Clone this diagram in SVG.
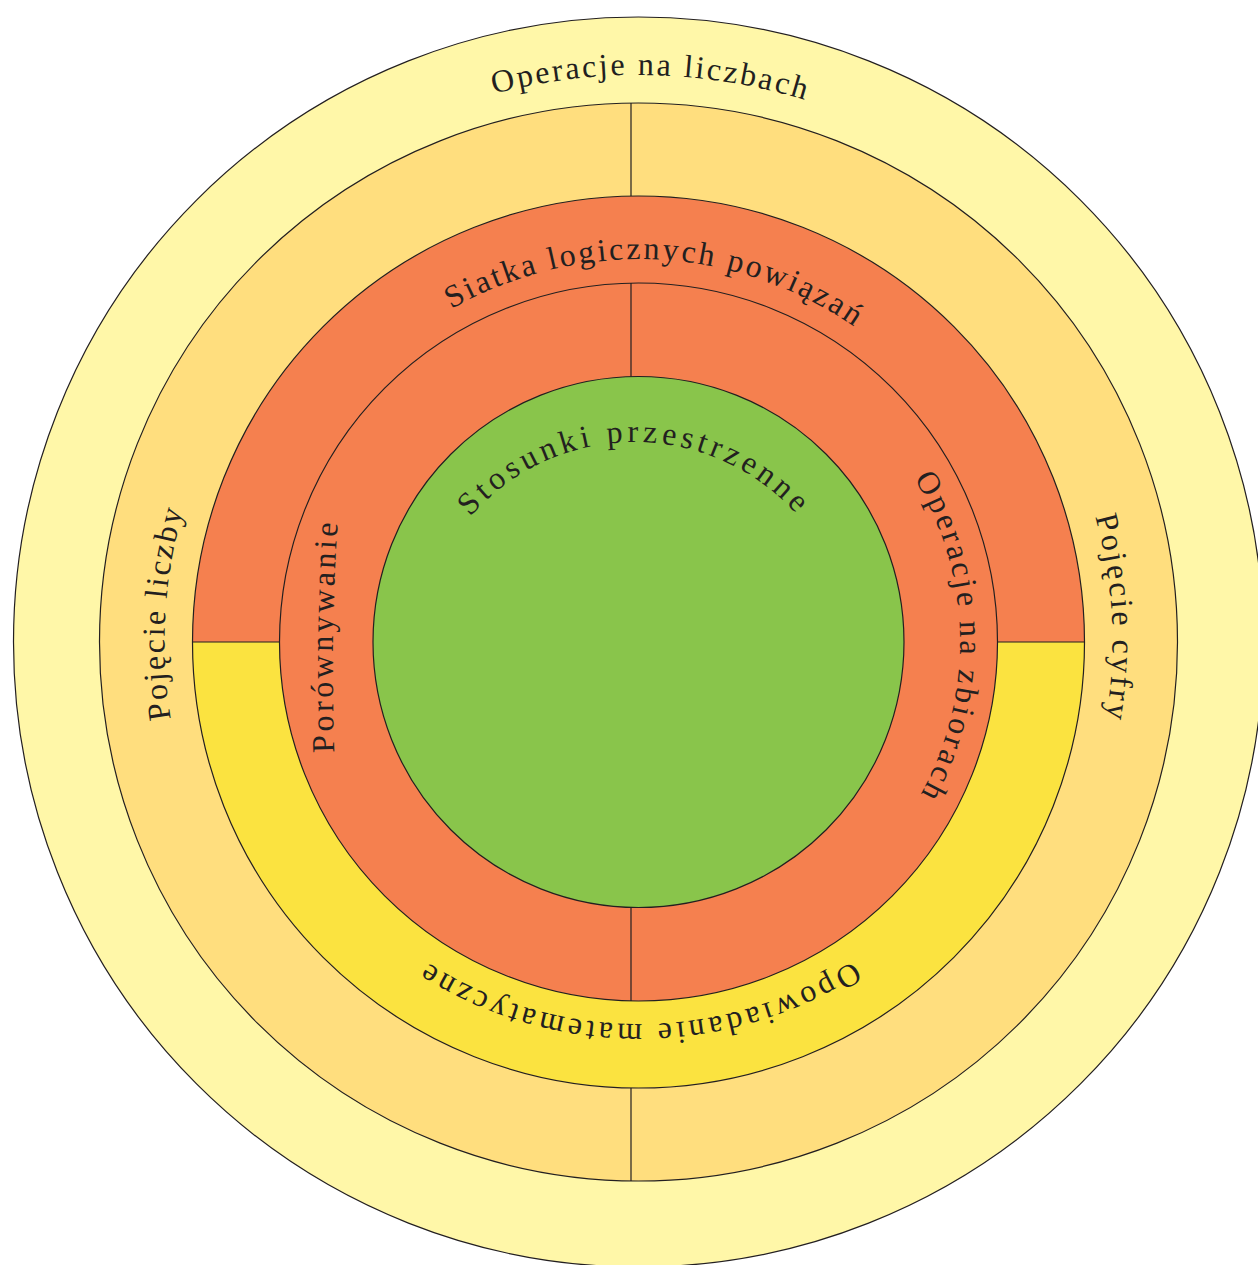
<svg xmlns="http://www.w3.org/2000/svg" width="1258" height="1265" viewBox="0 0 1258 1265">
  <style>
    .ring { stroke: #231F20; stroke-width: 1.2; }
    .div { stroke: #231F20; stroke-width: 1.2; fill: none; }
    .lbl { font-family: "Liberation Serif", "DejaVu Serif", serif; font-size: 32px; fill: #231F20; }
  </style>
  <defs>
    <path id="p-outer" d="M 626.13 1208.87 A 567 567 0 0 1 650.87 75.13 A 567 567 0 0 1 626.13 1208.87"/>
    <path id="p-siatka" d="M 620.46 1024.57 A 383 383 0 0 1 656.54 259.43 A 383 383 0 0 1 620.46 1024.57"/>
    <path id="p-stos" d="M 634.5 878 A 218 218 0 0 1 634.5 442 A 218 218 0 0 1 634.5 878"/>
    <path id="p-por" d="M 336 790 Q 328 640 340 490"/>
    <path id="p-zbior" d="M 330.04 647.22 A 315 315 0 0 1 959.96 636.78 A 315 315 0 0 1 330.04 647.22"/>
    <path id="p-liczby" d="M 1111.62 670.94 A 474 474 0 0 1 165.38 613.06 A 474 474 0 0 1 1111.62 670.94"/>
    <path id="p-cyfry" d="M 165.11 665.98 A 474 474 0 0 1 1111.89 618.02 A 474 474 0 0 1 165.11 665.98"/>
    <path id="p-opow" d="M 639 236 A 394 394 0 0 1 639 1024 A 394 394 0 0 1 639 236"/>
  </defs>

  <g id="ring-operacje-na-liczbach">
    <circle class="ring" cx="638.5" cy="642" r="625" fill="#FFF7A8"/>
    <text class="lbl" letter-spacing="2.45"><textPath href="#p-outer" startOffset="50%" text-anchor="middle">Operacje na liczbach</textPath></text>
  </g>

  <g id="ring-pojecie">
    <circle class="ring" cx="638.5" cy="642" r="539" fill="#FFDE7E"/>
    <text class="lbl" letter-spacing="2.3"><textPath href="#p-liczby" startOffset="50%" text-anchor="middle">Pojęcie liczby</textPath></text>
    <text class="lbl" letter-spacing="2.8"><textPath href="#p-cyfry" startOffset="50%" text-anchor="middle">Pojęcie cyfry</textPath></text>
  </g>

  <g id="ring-siatka-opowiadanie">
    <circle cx="638.5" cy="642" r="446" fill="#FBE340"/>
    <path d="M 192.5 642 A 446 446 0 0 1 1084.5 642 Z" fill="#F5804F"/>
    <circle class="ring" cx="638.5" cy="642" r="446" fill="none"/>
    <text class="lbl" letter-spacing="2.63"><textPath href="#p-siatka" startOffset="50%" text-anchor="middle">Siatka logicznych powiązań</textPath></text>
    <text class="lbl" letter-spacing="3.7"><textPath href="#p-opow" startOffset="50%" text-anchor="middle">Opowiadanie matematyczne</textPath></text>
  </g>

  <g id="ring-porownywanie-zbiory">
    <circle class="ring" cx="638.5" cy="642" r="359" fill="#F5804F"/>
    <text class="lbl" letter-spacing="3.4"><textPath href="#p-por" startOffset="51.3%" text-anchor="middle">Porównywanie</textPath></text>
    <text class="lbl" letter-spacing="3.1"><textPath href="#p-zbior" startOffset="50%" text-anchor="middle">Operacje na zbiorach</textPath></text>
  </g>

  <g id="center-stosunki">
    <circle class="ring" cx="638.5" cy="642" r="265.5" fill="#89C54B"/>
    <text class="lbl" letter-spacing="4.3"><textPath href="#p-stos" startOffset="50%" text-anchor="middle">Stosunki przestrzenne</textPath></text>
  </g>

  <g id="connectors">
    <line class="div" x1="631" y1="103" x2="631" y2="196"/>
    <line class="div" x1="631" y1="1088" x2="631" y2="1181"/>
    <line class="div" x1="631" y1="283" x2="631" y2="376.6"/>
    <line class="div" x1="631" y1="907.4" x2="631" y2="1001"/>
    <line class="div" x1="192.5" y1="642" x2="279.5" y2="642"/>
    <line class="div" x1="997.5" y1="642" x2="1084.5" y2="642"/>
  </g>
</svg>
